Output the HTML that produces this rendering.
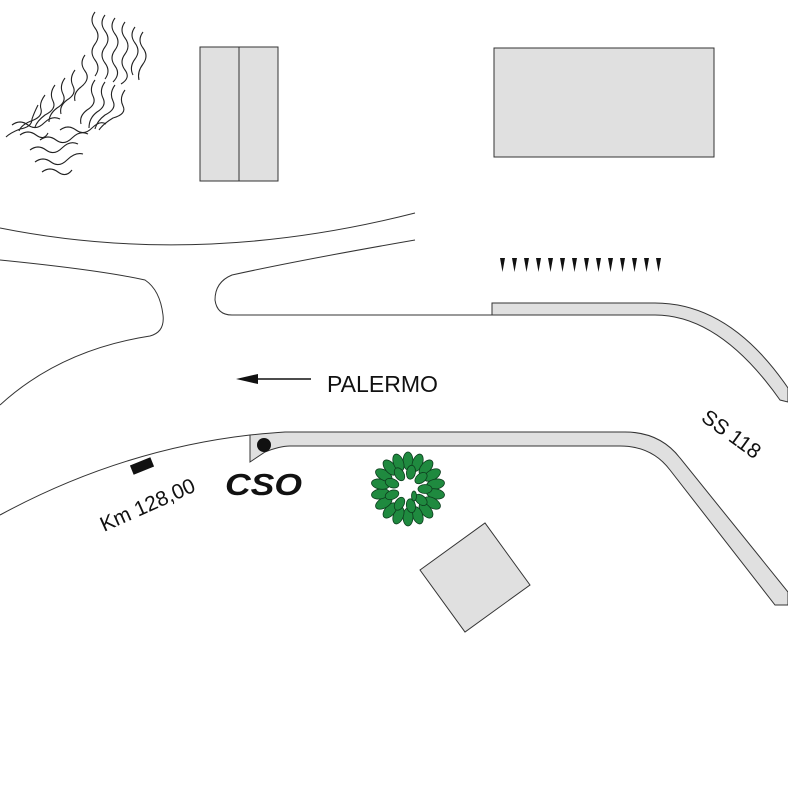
<!DOCTYPE html>
<html><head><meta charset="utf-8"><style>html,body{margin:0;padding:0;background:#fff}svg{display:block}</style></head>
<body>
<svg width="788" height="787" viewBox="0 0 788 787" xmlns="http://www.w3.org/2000/svg" font-family="Liberation Sans, sans-serif">
<g fill="none" stroke="#222" stroke-width="1.1">
<path d="M95,12 q-6,8 0,16 q6,8 0,16 q-6,8 0,16 q6,8 0,16"/>
<path d="M105,15 q-6,8 0,16 q6,8 0,16 q-6,8 0,16 q6,8 0,16"/>
<path d="M115,18 q-6,8 0,16 q6,8 0,16 q-6,8 0,16 q6,8 -2,16"/>
<path d="M125,22 q-6,8 0,16 q6,8 0,16 q-6,8 0,16 q6,8 -4,14"/>
<path d="M135,27 q-6,8 0,16 q6,8 0,16 q-6,8 -2,16"/>
<path d="M143,32 q-6,8 0,16 q6,8 0,16 q-6,8 -4,16"/>
<path d="M85,55 q-6,8 0,16 q6,8 -4,16 q-8,6 -6,14"/>
<path d="M75,70 q-6,8 -2,16 q4,8 -6,14 q-8,6 -6,14"/>
<path d="M65,78 q-6,8 -2,16 q4,8 -6,14 q-8,6 -8,14"/>
<path d="M55,85 q-6,8 -2,16 q4,8 -8,14 q-8,6 -10,12"/>
<path d="M45,95 q-6,8 -4,14 q2,8 -10,12 q-10,4 -12,10"/>
<path d="M38,105 q-4,8 -6,14 q0,8 -12,10 q-10,4 -14,8"/>
<path d="M95,80 q-6,8 -2,16 q4,8 -6,14 q-8,6 -6,14"/>
<path d="M105,82 q-6,8 -2,16 q4,8 -6,14 q-8,6 -8,16"/>
<path d="M115,85 q-6,8 -2,16 q4,8 -8,14 q-8,6 -10,14"/>
<path d="M125,90 q-6,8 -2,16 q4,8 -10,12 q-10,6 -14,12"/>
<path d="M60,130 q8,-6 16,0 q8,6 16,-2 q8,-8 14,-4"/>
<path d="M40,140 q8,-6 16,0 q8,6 16,-2 q8,-8 16,-4"/>
<path d="M30,150 q8,-6 16,0 q8,6 16,-2 q8,-8 16,-4"/>
<path d="M35,162 q8,-6 16,0 q8,6 16,-2 q8,-8 16,-6"/>
<path d="M42,172 q8,-6 16,0 q8,6 14,-2"/>
<path d="M12,125 q8,-6 16,0 q8,6 16,-2 q8,-8 16,-4"/>
<path d="M20,135 q8,-6 16,0 q8,6 12,-2"/>
</g>
<g fill="#e0e0e0" stroke="#333" stroke-width="1">
<rect x="200" y="47" width="78" height="134"/>
<line x1="239" y1="47" x2="239" y2="181"/>
<rect x="494" y="48" width="220" height="109"/>
<polygon points="420,570 485,523 530,585 465,632"/>
<path d="M492,303 L655,303 Q730,303 788,388 L788,402 L780,400 Q720,315 655,315 L492,315 Z"/>
<path d="M250,435 Q270,433 285,432 L625,432 Q660,432 680,458 L788,592 L788,605 L775,605 L670,470 Q652,446 620,446 L290,446 Q280,446 265,452 L250,462 Z"/>
</g>
<g fill="none" stroke="#333" stroke-width="1">
<path d="M0,228 Q200,268 415,213"/>
<path d="M0,260 Q100,270 145,280 Q160,290 163,315 Q165,332 150,336 Q60,350 0,405"/>
<path d="M415,240 Q300,260 232,275 Q215,282 215,300 Q217,315 232,315 L492,315"/>
<path d="M0,515 Q120,450 250,435"/>
</g>
<circle cx="264" cy="445" r="7" fill="#111"/>
<rect x="131" y="461" width="22" height="10" fill="#111" transform="rotate(-22 142 466)"/>
<g fill="#111">
<polygon points="500,258 505,258 502.5,272"/><polygon points="512,258 517,258 514.5,272"/><polygon points="524,258 529,258 526.5,272"/><polygon points="536,258 541,258 538.5,272"/><polygon points="548,258 553,258 550.5,272"/><polygon points="560,258 565,258 562.5,272"/><polygon points="572,258 577,258 574.5,272"/><polygon points="584,258 589,258 586.5,272"/><polygon points="596,258 601,258 598.5,272"/><polygon points="608,258 613,258 610.5,272"/><polygon points="620,258 625,258 622.5,272"/><polygon points="632,258 637,258 634.5,272"/><polygon points="644,258 649,258 646.5,272"/><polygon points="656,258 661,258 658.5,272"/>
</g>
<line x1="311" y1="379" x2="250" y2="379" stroke="#111" stroke-width="1.5"/>
<polygon points="236,379 258,374 258,384" fill="#111"/>
<text x="327" y="392" font-size="23" fill="#111" textLength="111" lengthAdjust="spacingAndGlyphs">PALERMO</text>
<text x="225" y="495" font-size="31" font-weight="bold" font-style="italic" fill="#111" textLength="77" lengthAdjust="spacingAndGlyphs">CSO</text>
<text x="0" y="0" font-size="21" fill="#111" transform="translate(104,532) rotate(-24)">Km 128,00</text>
<text x="0" y="0" font-size="21" fill="#111" transform="translate(700,420) rotate(36)">SS 118</text>
<g fill="#1f8a3f" stroke="#0d3d1e" stroke-width="0.8">
<ellipse cx="408" cy="461" rx="5" ry="9"/>
<ellipse cx="408" cy="461" rx="5" ry="9" transform="rotate(20 408 489)"/>
<ellipse cx="408" cy="461" rx="5" ry="9" transform="rotate(40 408 489)"/>
<ellipse cx="408" cy="461" rx="5" ry="9" transform="rotate(60 408 489)"/>
<ellipse cx="408" cy="461" rx="5" ry="9" transform="rotate(80 408 489)"/>
<ellipse cx="408" cy="461" rx="5" ry="9" transform="rotate(100 408 489)"/>
<ellipse cx="408" cy="461" rx="5" ry="9" transform="rotate(120 408 489)"/>
<ellipse cx="408" cy="461" rx="5" ry="9" transform="rotate(140 408 489)"/>
<ellipse cx="408" cy="461" rx="5" ry="9" transform="rotate(160 408 489)"/>
<ellipse cx="408" cy="461" rx="5" ry="9" transform="rotate(180 408 489)"/>
<ellipse cx="408" cy="461" rx="5" ry="9" transform="rotate(200 408 489)"/>
<ellipse cx="408" cy="461" rx="5" ry="9" transform="rotate(220 408 489)"/>
<ellipse cx="408" cy="461" rx="5" ry="9" transform="rotate(240 408 489)"/>
<ellipse cx="408" cy="461" rx="5" ry="9" transform="rotate(260 408 489)"/>
<ellipse cx="408" cy="461" rx="5" ry="9" transform="rotate(280 408 489)"/>
<ellipse cx="408" cy="461" rx="5" ry="9" transform="rotate(300 408 489)"/>
<ellipse cx="408" cy="461" rx="5" ry="9" transform="rotate(320 408 489)"/>
<ellipse cx="408" cy="461" rx="5" ry="9" transform="rotate(340 408 489)"/>
<ellipse cx="408" cy="472" rx="4.5" ry="7" transform="rotate(10 408 489)"/>
<ellipse cx="408" cy="472" rx="4.5" ry="7" transform="rotate(50 408 489)"/>
<ellipse cx="408" cy="472" rx="4.5" ry="7" transform="rotate(90 408 489)"/>
<ellipse cx="408" cy="472" rx="4.5" ry="7" transform="rotate(130 408 489)"/>
<ellipse cx="408" cy="472" rx="4.5" ry="7" transform="rotate(170 408 489)"/>
<ellipse cx="408" cy="472" rx="4.5" ry="7" transform="rotate(210 408 489)"/>
<ellipse cx="408" cy="472" rx="4.5" ry="7" transform="rotate(250 408 489)"/>
<ellipse cx="408" cy="472" rx="4.5" ry="7" transform="rotate(290 408 489)"/>
<ellipse cx="408" cy="472" rx="4.5" ry="7" transform="rotate(330 408 489)"/>
<ellipse cx="414" cy="496" rx="2.5" ry="5"/>
</g>
</svg>
</body></html>
